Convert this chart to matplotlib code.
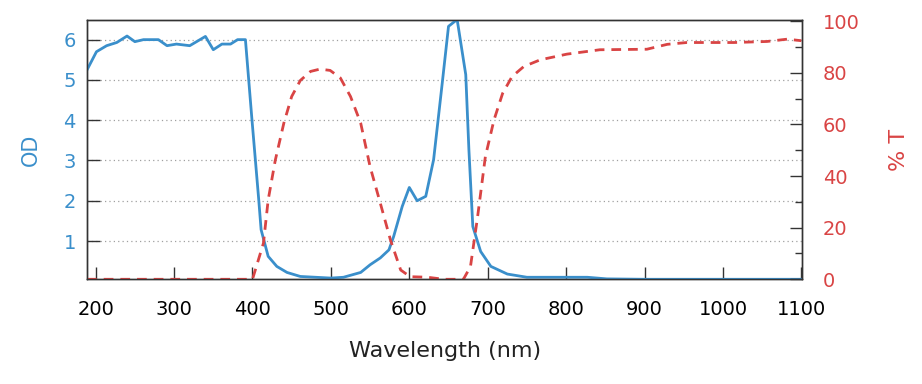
import matplotlib
matplotlib.use("Agg")
import matplotlib.pyplot as plt
from matplotlib.ticker import MultipleLocator

# OD curve (left axis)
od_wl = [189, 201, 214, 227, 240, 250, 261, 280, 291, 303, 320, 340, 350, 361, 372, 381, 391,
         399, 408, 411, 420, 431, 444, 461, 500, 516, 538, 550, 563, 574, 580, 591, 600, 610,
         621, 631, 642, 650, 661, 672, 676, 681, 691, 704, 725, 750, 801, 827, 852, 900, 1000, 1100]
od = [5.25, 5.7, 5.85, 5.93, 6.09, 5.95, 6.0, 6.0, 5.85, 5.89, 5.85, 6.08, 5.75, 5.89, 5.89, 6.0, 6.0,
      4.09, 2.02, 1.28, 0.62, 0.37, 0.22, 0.12, 0.08, 0.1, 0.22, 0.41, 0.58, 0.78, 1.11, 1.86, 2.33, 2.0,
      2.11, 3.02, 4.92, 6.33, 6.5, 5.13, 3.27, 1.36, 0.74, 0.37, 0.18, 0.1, 0.1, 0.1, 0.06, 0.05, 0.05, 0.05]

# transmission curve (right axis)
t_wl = [189, 300, 391, 400, 414, 420, 429, 440, 450, 461, 474, 486, 499, 512, 525, 538, 550, 563,
        576, 589, 601, 623, 644, 669, 678, 687, 697, 708, 719, 731, 746, 767, 801, 843, 903, 929,
        954, 1014, 1056, 1082, 1100]
trans = [0, 0, 0, 0, 14, 30.7, 46, 60.5, 70.8, 77, 80.5, 81.4, 80.9, 78, 70.8, 60.5, 43.6, 29.5,
         15.2, 3.6, 1, 0.8, 0, 0, 4.9, 24, 47.5, 61.7, 72, 78.5, 82.4, 85, 87.2, 88.9, 89.1, 91,
         91.7, 91.7, 92.1, 93, 92.4]

blue = '#3a8fcb'
red = '#d94444'
fs = 14

fig = plt.figure(figsize=(9.22, 3.84), dpi=100)
ax = fig.add_axes([0.0944, 0.2727, 0.7756, 0.6744])
ax2 = ax.twinx()

ax.plot(od_wl, od, color=blue, lw=2, zorder=3)
ax2.plot(t_wl, trans, color=red, lw=2, ls=(0, (3.5, 2.5)))

ax.set_xlim(189, 1101)
ax.set_ylim(0.05, 6.48)
ax2.set_ylim(0, 100.3)

ax.xaxis.set_major_locator(MultipleLocator(100))
ax.set_yticks([1, 2, 3, 4, 5, 6])
ax2.yaxis.set_major_locator(MultipleLocator(20))
ax2.yaxis.set_minor_locator(MultipleLocator(10))

ax.grid(axis='y', ls=(0, (1, 2.5)), color='#a0a0a0', lw=0.9)

ax.tick_params(axis='x', direction='in', length=9, width=1, color='#333333',
               labelsize=fs, pad=15, top=False)
ax.tick_params(axis='y', direction='in', length=9, width=1, color='#333333',
               labelsize=fs, labelcolor=blue, pad=8)
ax2.tick_params(axis='y', which='major', direction='in', length=9, width=1, color='#333333',
                labelsize=fs, labelcolor=red, pad=15)
ax2.tick_params(axis='y', which='minor', direction='in', length=5, width=1, color='#333333')

for a in (ax, ax2):
    for s in a.spines.values():
        s.set_color('#333333')
        s.set_linewidth(1)

ax.set_xlabel('Wavelength (nm)', fontsize=16, color='#222222', labelpad=16)
ax.set_ylabel('OD', fontsize=15, color=blue, labelpad=16)
ax2.set_ylabel('% T', fontsize=16, color=red, labelpad=21)

fig.savefig('out.png', dpi=100)
